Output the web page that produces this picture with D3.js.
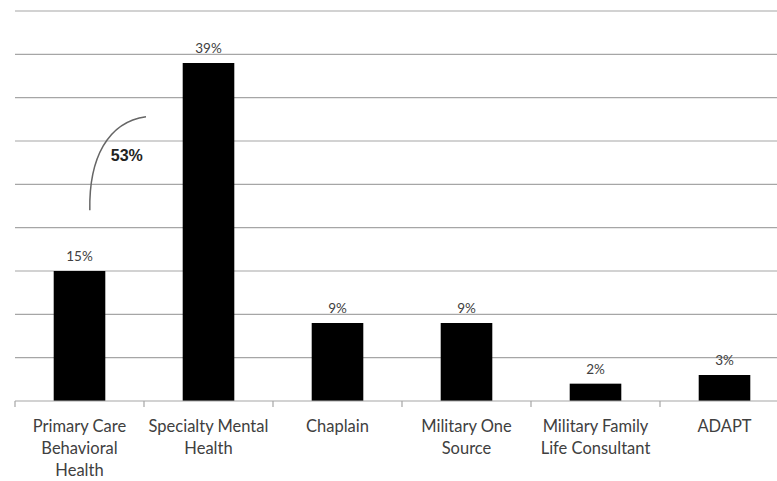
<!DOCTYPE html>
<html>
<head>
<meta charset="utf-8">
<script src="https://cdn.jsdelivr.net/npm/d3@7"></script>
<style>
  html, body { margin: 0; padding: 0; background: #fff; }
  svg { display: block; }
</style>
</head>
<body>
<svg id="chart" width="777" height="481"></svg>
<script>
// Referral destinations and share of referrals (%)
const categories = [
  ["Primary Care", "Behavioral", "Health"],
  ["Specialty Mental", "Health"],
  ["Chaplain"],
  ["Military One", "Source"],
  ["Military Family", "Life Consultant"],
  ["ADAPT"]
];
const values = [15, 39, 9, 9, 2, 3];
const gridTicks = [5, 10, 15, 20, 25, 30, 35, 40, 45];
const combinedLabel = "53%";

const svg = d3.select("#chart");
const keys = categories.map((c, i) => i);

const x = d3.scaleBand()
  .domain(keys)
  .range([15, 789])
  .paddingInner(0.6)
  .paddingOuter(0.3);

const y = d3.scaleLinear().domain([0, 45]).range([401, 11]);

// horizontal gridlines
svg.append("g").selectAll("line")
  .data(gridTicks)
  .join("line")
  .attr("x1", 15).attr("x2", 777)
  .attr("y1", d => y(d)).attr("y2", d => y(d))
  .attr("stroke", "#a6a6a6").attr("stroke-width", 1.2);

// bars
svg.append("g").selectAll("rect")
  .data(values)
  .join("rect")
  .attr("x", (d, i) => x(i))
  .attr("width", x.bandwidth())
  .attr("y", d => y(d))
  .attr("height", d => y(0) - y(d))
  .attr("fill", "#000");

// value labels
svg.append("g").selectAll("text")
  .data(values)
  .join("text")
  .attr("x", (d, i) => x(i) + x.bandwidth() / 2)
  .attr("y", d => y(d) - 10)
  .attr("text-anchor", "middle")
  .attr("font-family", "Lato, 'Open Sans', sans-serif")
  .attr("font-size", 13.5)
  .attr("fill", "#404040")
  .text(d => d + "%");

// category axis with ticks at band boundaries
const axisY = y(0);
const axis = svg.append("g");
axis.append("line")
  .attr("x1", 15).attr("x2", 777)
  .attr("y1", axisY).attr("y2", axisY)
  .attr("stroke", "#a6a6a6").attr("stroke-width", 1.2);
const step = x.step();
const boundaryXs = keys.map(i => x(i) + x.bandwidth() / 2 - step / 2);
axis.selectAll("line.tick")
  .data(boundaryXs)
  .join("line")
  .attr("class", "tick")
  .attr("x1", d => d).attr("x2", d => d)
  .attr("y1", axisY).attr("y2", axisY + 6)
  .attr("stroke", "#a6a6a6").attr("stroke-width", 1.2);

const labels = svg.append("g").selectAll("text")
  .data(categories)
  .join("text")
  .attr("x", (d, i) => x(i) + x.bandwidth() / 2)
  .attr("y", 432)
  .attr("text-anchor", "middle")
  .attr("font-family", "Lato, 'Open Sans', sans-serif")
  .attr("font-size", 16.5)
  .attr("fill", "#404040");
labels.each(function (lines) {
  const t = d3.select(this);
  lines.forEach((ln, j) => {
    t.append("tspan")
      .attr("x", t.attr("x"))
      .attr("dy", j === 0 ? 0 : 22)
      .text(ln);
  });
});

// bracket arc combining the first two categories
const ax0 = x(0) + x.bandwidth() * 0.7;
const ax1 = (x(0) + x.bandwidth() + x(1)) / 2 + 2;
const arcPath = d3.path();
arcPath.moveTo(ax0, y(22));
arcPath.bezierCurveTo(ax0 - 1, y(28), ax0 + 18, y(32.2), ax1, y(32.8));
svg.append("path")
  .attr("d", arcPath.toString())
  .attr("fill", "none")
  .attr("stroke", "#666")
  .attr("stroke-width", 1.5);

svg.append("text")
  .attr("x", ax0 + 37)
  .attr("y", y(27.7))
  .attr("text-anchor", "middle")
  .attr("font-family", "Arial, 'Liberation Sans', sans-serif")
  .attr("font-weight", "bold")
  .attr("font-size", 16)
  .attr("fill", "#222")
  .text(combinedLabel);
</script>
</body>
</html>
